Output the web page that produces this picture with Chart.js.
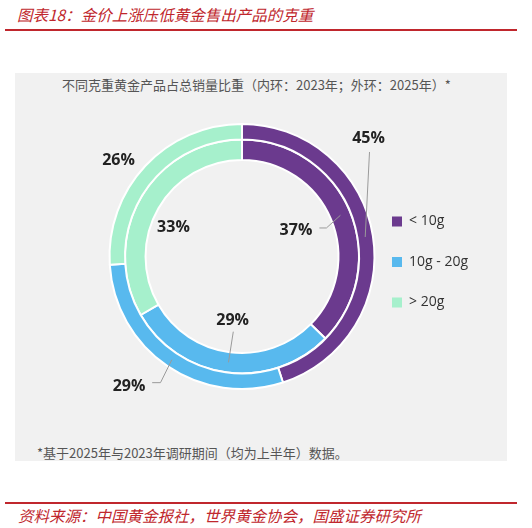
<!DOCTYPE html>
<html>
<head>
<meta charset="utf-8">
<script src="https://cdn.jsdelivr.net/npm/chart.js@4.4.1/dist/chart.umd.min.js"></script>
<style>
  html, body { margin: 0; padding: 0; background: #ffffff; }
  #wrap { position: relative; width: 532px; height: 528px; overflow: hidden;
          font-family: "Noto Sans CJK SC", "Noto Sans", sans-serif; }
  .red { position: absolute; color: #c0272d; font-style: italic; font-size: 15.5px;
         line-height: 20px; white-space: nowrap; }
  .rule { position: absolute; left: 5px; width: 512px; height: 2px; background: #c0272d; }
  #panel { position: absolute; left: 15px; top: 73px; width: 492px; height: 388px; background: #f1f1f1; }
  .gray { position: absolute; color: #555555; font-size: 13px; line-height: 18px; white-space: nowrap; }
  #cbox { position: absolute; left: 0; top: 0; width: 532px; height: 528px; }
</style>
</head>
<body>
<div id="wrap">
  <div class="red" style="left:17px; top:4px;">图表18：金价上涨压低黄金售出产品的克重</div>
  <div class="rule" style="top:29px;"></div>
  <div id="panel"></div>
  <div class="gray" style="left:62px; top:76px;">不同克重黄金产品占总销量比重（内环：2023年；外环：2025年）*</div>
  <div class="gray" style="left:37px; top:444px;">*基于2025年与2023年调研期间（均为上半年）数据。</div>
  <div class="rule" style="top:502px;"></div>
  <div class="red" style="left:18px; top:505px;">资料来源：中国黄金报社，世界黄金协会，国盛证券研究所</div>
  <div id="cbox"><canvas id="cv"></canvas></div>
</div>
<script>
// ---- data ----
const categories = ['< 10g', '10g - 20g', '> 20g'];
const share2025 = [45, 29, 26];   // outer ring
const share2023 = [37, 29, 33];   // inner ring
const ringColors = ['#6b3a8e', '#58b9ee', '#a6f0cc'];

// ---- label placement (pixel offsets from each arc's centre point) ----
const outerLabelStyle = [
  { dx: 3.3,  dy: -98.5, leader: [[4.3, -85]] },
  { dx: -42.9, dy: 26.3, leader: [[-11.4, 23], [-19.7, 23]] },
  { dx: -32.5, dy: -10.4, leader: null }
];
const innerLabelStyle = [
  { dx: -44.5, dy: 14.7, leader: [[-14, 12.7], [-21, 12.7]] },
  { dx: 4.1,  dy: -42.4, leader: [[4.8, -30.7]] },
  { dx: 23.9, dy: 23.9, leader: null }
];

const ringLabels = {
  id: 'ringLabels',
  afterDatasetsDraw(chart) {
    const ctx = chart.ctx;
    const styles = [outerLabelStyle, innerLabelStyle];
    ctx.save();
    chart.data.datasets.forEach((ds, di) => {
      const meta = chart.getDatasetMeta(di);
      meta.data.forEach((arc, i) => {
        const p = arc.getCenterPoint();
        const st = styles[di][i];
        if (st.leader) {
          ctx.beginPath();
          ctx.strokeStyle = '#9a9a9a';
          ctx.lineWidth = 1;
          ctx.moveTo(p.x, p.y);
          st.leader.forEach(([lx, ly]) => ctx.lineTo(p.x + lx, p.y + ly));
          ctx.stroke();
        }
        ctx.fillStyle = '#222222';
        ctx.font = 'bold 16px "Open Sans", sans-serif';
        ctx.textAlign = 'center';
        ctx.textBaseline = 'middle';
        ctx.fillText(ds.data[i] + '%', p.x + st.dx, p.y + st.dy);
      });
    });
    ctx.restore();
  }
};

new Chart(document.getElementById('cv'), {
  type: 'doughnut',
  data: {
    labels: categories,
    datasets: [
      { label: '2025', data: share2025, backgroundColor: ringColors,
        borderColor: '#ffffff', borderWidth: 2, weight: 15.5 },
      { label: '2023', data: share2023, backgroundColor: ringColors,
        borderColor: '#ffffff', borderWidth: 2, weight: 20.5 }
    ]
  },
  options: {
    responsive: true,
    maintainAspectRatio: false,
    animation: false,
    radius: 132.5,
    cutout: '72.8%',
    layout: { padding: { top: 100, bottom: 115, left: 118.5, right: 54 } },
    plugins: {
      tooltip: { enabled: false },
      legend: {
        position: 'right',
        title: { display: true, text: ' ', font: { size: 10, lineHeight: 1.1 }, padding: 0 },
        labels: {
          boxWidth: 10, boxHeight: 10, padding: 26.5, color: '#333333',
          font: { family: '"Open Sans", sans-serif', size: 14 },
          generateLabels: (chart) =>
            Chart.overrides.doughnut.plugins.legend.labels.generateLabels(chart)
              .map(l => Object.assign({}, l, { lineWidth: 0, strokeStyle: l.fillStyle }))
        }
      }
    }
  },
  plugins: [ringLabels]
});
</script>
</body>
</html>
